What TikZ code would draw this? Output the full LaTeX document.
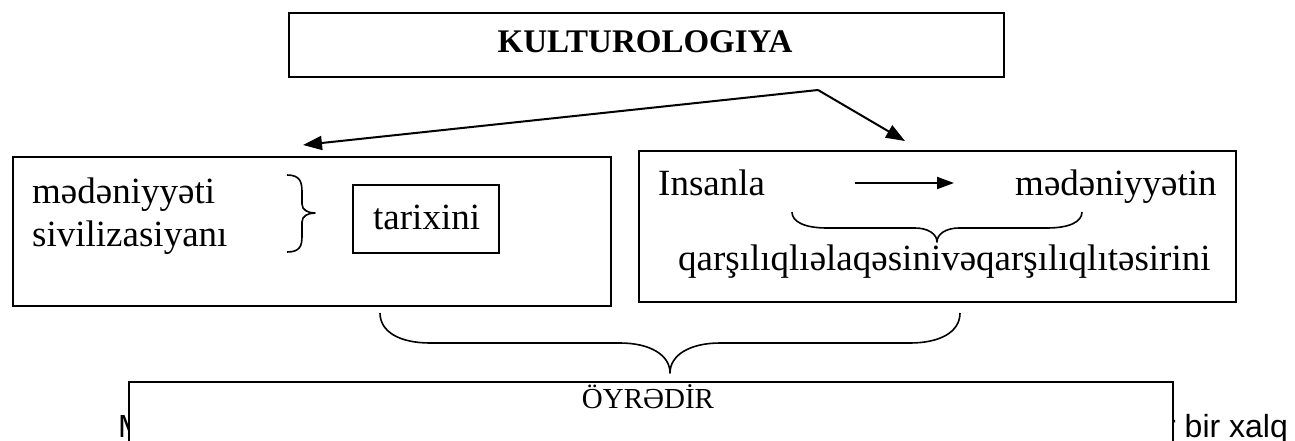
\documentclass[tikz,border=0pt]{standalone}
\usepackage{fontspec}
\setmainfont{Liberation Serif}
\newfontfamily\arialf{Liberation Sans}
\usetikzlibrary{arrows.meta}
\begin{document}
\begin{tikzpicture}[x=1pt,y=-1pt,
  box/.style={draw, line width=2pt, fill=white, inner sep=0pt, anchor=north west},
  txt/.style={inner sep=0pt, font=\fontsize{37}{44}\selectfont},
  arr/.style={-{Triangle[length=19pt,width=14pt]}, line width=2pt},
  brc/.style={line width=1.6pt, line join=round}]
\useasboundingbox (0,0) rectangle (1295,441);
\clip (0,0) rectangle (1295,441);
% background text partly hidden by the bottom box
\node[inner sep=0pt, anchor=base west, font=\arialf\fontsize{32}{38}\selectfont] (bgl) at (118,437) {M};
\node[inner sep=0pt, anchor=base west, font=\arialf\fontsize{32}{38}\selectfont] (bgr) at (1165,437) {r bir xalq};
% boxes
\node[box, minimum width=715pt, minimum height=64pt] (top) at (288,12) {};
\node[box, minimum width=598pt, minimum height=149pt] (left) at (12,156) {};
\node[box, minimum width=597pt, minimum height=151pt] (right) at (638,150) {};
\node[box, minimum width=146pt, minimum height=68pt] (tar) at (352,184) {};
\node[box, minimum width=1044pt, minimum height=90pt] (bot) at (128,381) {};
% texts
\node[inner sep=0pt, anchor=base, font=\bfseries\fontsize{33}{40}\selectfont] (kult) at (645,53) {KULTUROLOGIYA};
\node[txt, anchor=base west] (med1) at (32,203) {mədəniyyəti};
\node[txt, anchor=base west] (siv) at (32,246) {sivilizasiyanı};
\node[txt, anchor=base west] (tart) at (373,229) {tarixini};
\node[txt, anchor=base west] (ins) at (658,195) {Insanla};
\node[txt, anchor=base west] (med2) at (1015,195) {mədəniyyətin};
\node[txt, anchor=base west] (qar) at (678,270) {qarşılıqlıəlaqəsinivəqarşılıqlıtəsirini};
\node[inner sep=0pt, anchor=base, font=\fontsize{29}{34}\selectfont] (oyr) at (648,408) {ÖYRƏDİR};
% arrows
\coordinate (split) at (818,90);
\coordinate (lt) at (303,145);
\coordinate (rt) at (905,141);
\draw[arr] (split) -- (lt);
\draw[arr] (split) -- (rt);
\coordinate (a1) at (855,183);
\coordinate (a2) at (954,183);
\draw[arr, -{Triangle[length=17pt,width=12pt]}] (a1) -- (a2);
% brace in left box (pointing right)
\draw[brc] (287,175) .. controls (300,175) and (302,182) .. (302,192)
  -- (302,204) .. controls (302,210) and (308,213) .. (315,213)
  .. controls (308,213) and (302,216) .. (302,222)
  -- (302,236) .. controls (302,246) and (300,252) .. (287,252);
% brace in right box (pointing down)
\draw[brc] (792,212) .. controls (792,222) and (805,228) .. (827,228)
  -- (915,228) .. controls (928,228) and (937,234) .. (937,242)
  .. controls (937,234) and (946,228) .. (959,228)
  -- (1047,228) .. controls (1069,228) and (1082,222) .. (1082,212);
% big brace below the two boxes
\draw[brc] (380,313) .. controls (380,332) and (400,343) .. (430,343)
  -- (620,343) .. controls (650,343) and (670,355) .. (670,373)
  .. controls (670,355) and (690,343) .. (720,343)
  -- (910,343) .. controls (940,343) and (960,332) .. (960,313);
\end{tikzpicture}
\end{document}
